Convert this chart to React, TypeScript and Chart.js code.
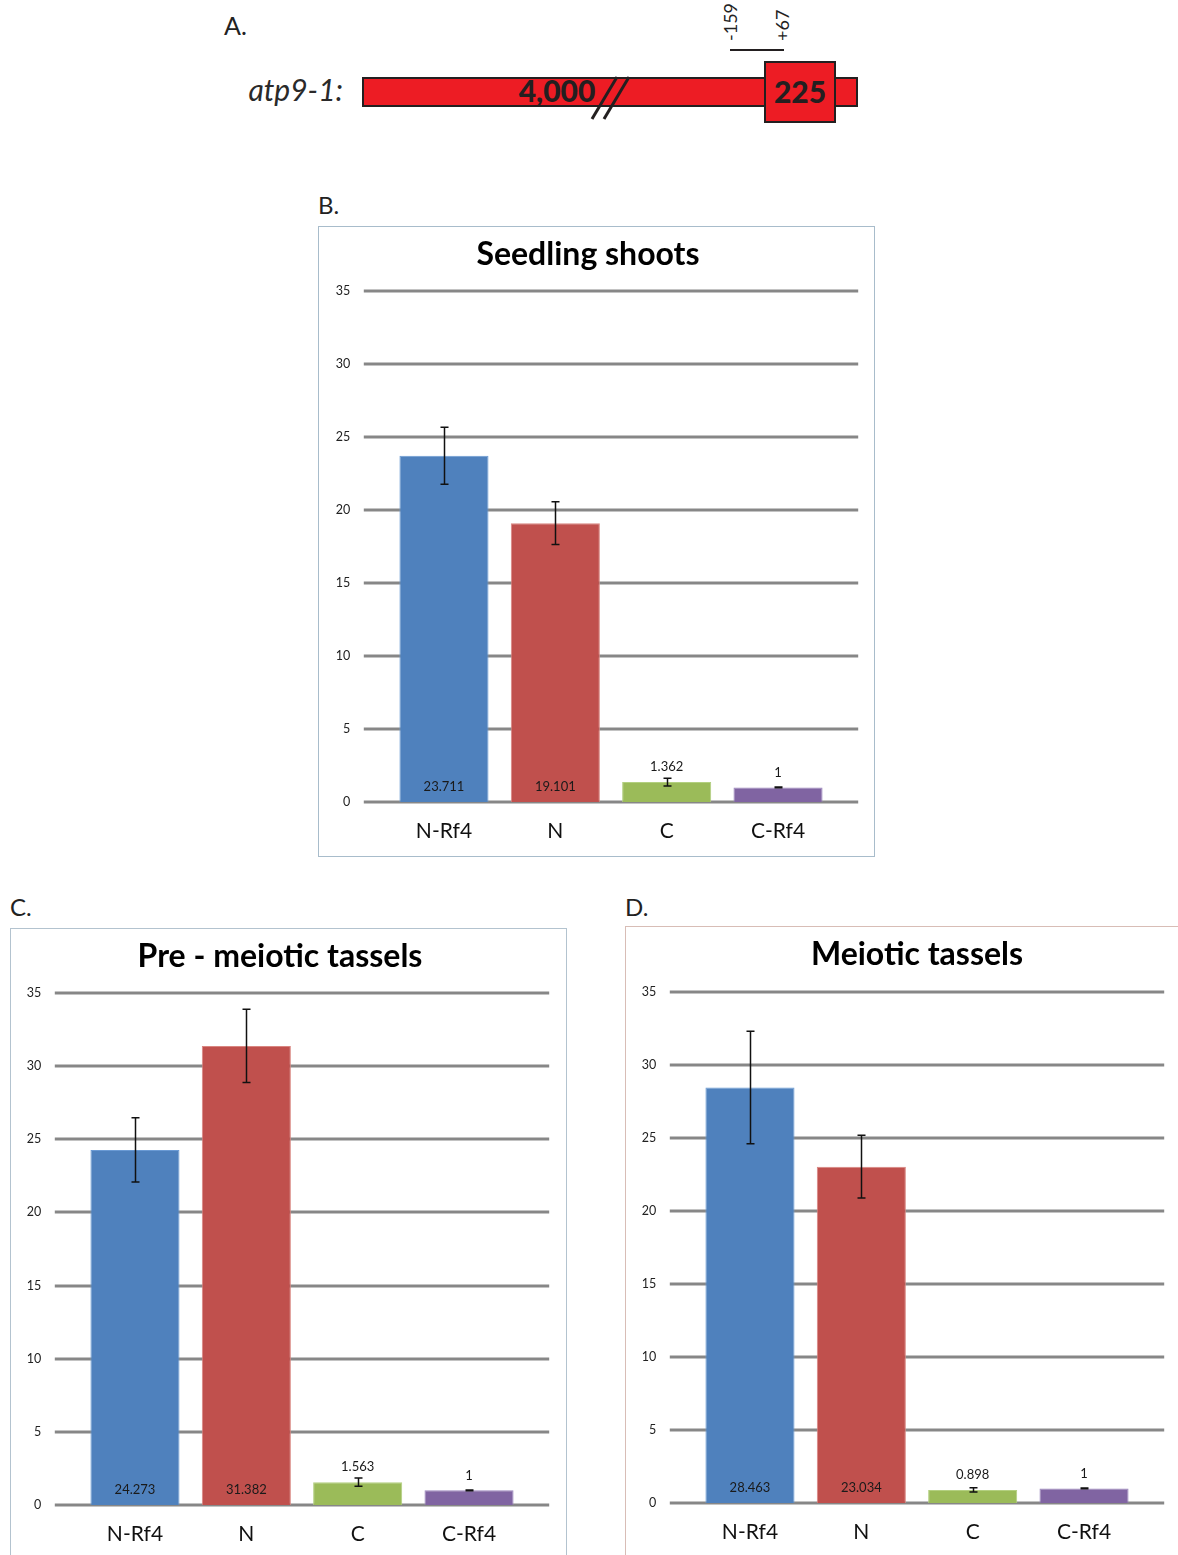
import React, { useEffect, useRef } from "react";
import { Chart, registerables } from "chart.js";

Chart.register(...registerables);

const FONT = "Lato, 'Open Sans', sans-serif";

const categories = ["N-Rf4", "N", "C", "C-Rf4"];
const seedlingValues = [23.711, 19.101, 1.362, 1];
const seedlingErrors = [1.95, 1.47, 0.27, 0.03];
const preMeioticValues = [24.273, 31.382, 1.563, 1];
const preMeioticErrors = [2.2, 2.5, 0.28, 0.03];
const meioticValues = [28.463, 23.034, 0.898, 1];
const meioticErrors = [3.85, 2.15, 0.15, 0.03];
const barColors = ["#4f81bd", "#c0504d", "#9bbb59", "#8064a2"];
const barEdgeColors = ["#6a9ad4", "#d98580", "#b3d080", "#9a85bd"];
const yMin = 0;
const yMax = 35;
const yStep = 5;

const GRID_EXT = 24.5;
const TITLE_SIZE = 32;

const extGridPlugin = {
  id: "extGrid",
  beforeDatasetsDraw(chart: any) {
    const { ctx, chartArea, scales } = chart;
    const y = scales.y;
    ctx.save();
    ctx.strokeStyle = "#878787";
    ctx.lineWidth = 3;
    y.ticks.forEach((t: any) => {
      const py = Math.round(y.getPixelForValue(t.value));
      ctx.beginPath();
      ctx.moveTo(chartArea.left - GRID_EXT, py);
      ctx.lineTo(chartArea.right + GRID_EXT, py);
      ctx.stroke();
    });
    ctx.restore();
  },
};

const errorBarPlugin = {
  id: "errorBars",
  afterDatasetsDraw(chart: any, _args: any, opts: any) {
    const { ctx, scales } = chart;
    const y = scales.y;
    const meta = chart.getDatasetMeta(0);
    const values = chart.data.datasets[0].data as number[];
    const errors: number[] = opts.errors || [];
    ctx.save();
    ctx.strokeStyle = "#111";
    ctx.lineWidth = 1.5;
    meta.data.forEach((el: any, i: number) => {
      const v = values[i];
      const e = errors[i] || 0;
      const x = Math.round(el.x) + 0.5;
      const top = y.getPixelForValue(v + e);
      const bot = y.getPixelForValue(v - e);
      ctx.beginPath();
      ctx.moveTo(x, top);
      ctx.lineTo(x, bot);
      ctx.moveTo(x - 4, top);
      ctx.lineTo(x + 4, top);
      ctx.moveTo(x - 4, bot);
      ctx.lineTo(x + 4, bot);
      ctx.stroke();
    });
    ctx.restore();
  },
};

const valueLabelPlugin = {
  id: "valueLabels",
  afterDatasetsDraw(chart: any) {
    const { ctx, chartArea } = chart;
    const meta = chart.getDatasetMeta(0);
    const values = chart.data.datasets[0].data as number[];
    ctx.save();
    ctx.font = `13px ${FONT}`;
    ctx.fillStyle = "#1a1a1a";
    ctx.textAlign = "center";
    ctx.textBaseline = "middle";
    meta.data.forEach((el: any, i: number) => {
      const v = values[i];
      const ly = v >= 3 ? chartArea.bottom - 15 : el.y - 15;
      ctx.fillText(String(v), el.x, ly);
    });
    ctx.restore();
  },
};

type PanelProps = {
  title: string;
  values: number[];
  errors: number[];
  w: number;
  h: number;
  left: number;
  right: number;
  top: number;
  bottom: number;
  titleCenter: number;
  titleTop: number;
  x: number;
  y: number;
};

function BarPanel(p: PanelProps) {
  const ref = useRef<HTMLCanvasElement | null>(null);
  useEffect(() => {
    if (!ref.current) return;
    const titleLine = TITLE_SIZE * 1.2;
    // title box spans [0, w - padRight]; centre it on titleCenter
    const padRight = p.w - 2 * p.titleCenter;
    const rightAxisWidth = p.w - padRight - p.right;
    const chart = new Chart(ref.current, {
      type: "bar",
      data: {
        labels: categories,
        datasets: [
          {
            data: p.values,
            backgroundColor: barColors,
            borderColor: barEdgeColors,
            borderWidth: 1,
            categoryPercentage: 1,
            barPercentage: 0.8,
          },
        ],
      },
      options: {
        animation: false,
        responsive: false,
        maintainAspectRatio: false,
        layout: { padding: { left: 0, right: padRight, top: 0, bottom: 0 } },
        plugins: {
          legend: { display: false },
          tooltip: { enabled: false },
          title: {
            display: true,
            text: p.title,
            color: "#000",
            font: { family: FONT, size: TITLE_SIZE, weight: "bold" },
            padding: { top: p.titleTop, bottom: p.top - p.titleTop - titleLine },
          },
          errorBars: { errors: p.errors },
        } as any,
        scales: {
          x: {
            grid: { display: false, drawTicks: false },
            border: { display: false },
            ticks: { color: "#111", font: { family: FONT, size: 21 }, padding: 17 },
            afterFit: (s: any) => {
              s.height = p.h - p.bottom;
            },
          },
          y: {
            min: yMin,
            max: yMax,
            grid: { display: false, drawTicks: false },
            border: { display: false },
            ticks: { stepSize: yStep, color: "#222", font: { family: FONT, size: 12.5 }, padding: 38 },
            afterFit: (s: any) => {
              s.width = p.left;
            },
          },
          spacer: {
            type: "linear",
            position: "right",
            display: true,
            grid: { display: false, drawTicks: false },
            border: { display: false },
            ticks: { display: false },
            afterFit: (s: any) => {
              s.width = rightAxisWidth;
            },
          },
        },
      } as any,
      plugins: [extGridPlugin, errorBarPlugin, valueLabelPlugin],
    });
    return () => chart.destroy();
  }, []);
  return (
    <canvas
      ref={ref}
      width={p.w}
      height={p.h}
      style={{ position: "absolute", left: p.x, top: p.y, width: p.w, height: p.h }}
    />
  );
}

function GeneDiagram() {
  return (
    <svg
      width={1178}
      height={140}
      style={{ position: "absolute", left: 0, top: 0 }}
      fontFamily={FONT}
    >
      <text x={224} y={35} fontSize={25} fill="#222">A.</text>
      <text x={343} y={101} fontSize={30} fontStyle="italic" textAnchor="end" fill="#2a2a2a">atp9-1:</text>
      <rect x={363} y={78} width={494} height={28} fill="#ed1c24" stroke="#231f20" strokeWidth={2} />
      <rect x={765} y={62} width={70} height={60} fill="#ed1c24" stroke="#231f20" strokeWidth={2} />
      <text x={557} y={102} fontSize={30} fontWeight="900" textAnchor="middle" fill="#231f20">4,000</text>
      <line x1={592} y1={119} x2={617} y2={77} stroke="#231f20" strokeWidth={3} />
      <line x1={604} y1={119} x2={629} y2={77} stroke="#231f20" strokeWidth={3} />
      <text x={800} y={103} fontSize={30} fontWeight="900" textAnchor="middle" fill="#231f20">225</text>
      <line x1={730} y1={50} x2={784} y2={50} stroke="#231f20" strokeWidth={2} />
      <text transform="translate(737,41) rotate(-90)" fontSize={18} fill="#222">-159</text>
      <text transform="translate(789,41) rotate(-90)" fontSize={18} fill="#222">+67</text>
    </svg>
  );
}

export default function App() {
  return (
    <div
      style={{
        position: "absolute",
        left: 0,
        top: 0,
        width: 1178,
        height: 1555,
        background: "#fff",
        overflow: "hidden",
        fontFamily: FONT,
      }}
    >
      <GeneDiagram />

      <div style={{ position: "absolute", left: 318, top: 190, fontSize: 24, color: "#222" }}>B.</div>
      <div
        style={{
          position: "absolute",
          left: 318,
          top: 226,
          width: 555,
          height: 629,
          border: "1px solid #a8bccb",
        }}
      />
      <BarPanel
        title="Seedling shoots"
        values={seedlingValues}
        errors={seedlingErrors}
        x={319}
        y={227}
        w={555}
        h={629}
        left={69.3}
        right={514.7}
        top={64}
        bottom={575}
        titleCenter={269}
        titleTop={8}
      />

      <div style={{ position: "absolute", left: 10, top: 892, fontSize: 24, color: "#222" }}>C.</div>
      <div
        style={{
          position: "absolute",
          left: 10,
          top: 928,
          width: 555,
          height: 640,
          border: "1px solid #b3c3cf",
        }}
      />
      <BarPanel
        title="Pre - meiotic tassels"
        values={preMeioticValues}
        errors={preMeioticErrors}
        x={11}
        y={929}
        w={555}
        h={626}
        left={68.3}
        right={513.7}
        top={64}
        bottom={576}
        titleCenter={269}
        titleTop={8}
      />

      <div style={{ position: "absolute", left: 625, top: 892, fontSize: 24, color: "#222" }}>D.</div>
      <div
        style={{
          position: "absolute",
          left: 625,
          top: 926,
          width: 600,
          height: 640,
          border: "1px solid #d8bdb6",
        }}
      />
      <BarPanel
        title="Meiotic tassels"
        values={meioticValues}
        errors={meioticErrors}
        x={626}
        y={927}
        w={600}
        h={628}
        left={68.3}
        right={513.7}
        top={65}
        bottom={576}
        titleCenter={291}
        titleTop={8}
      />
    </div>
  );
}
